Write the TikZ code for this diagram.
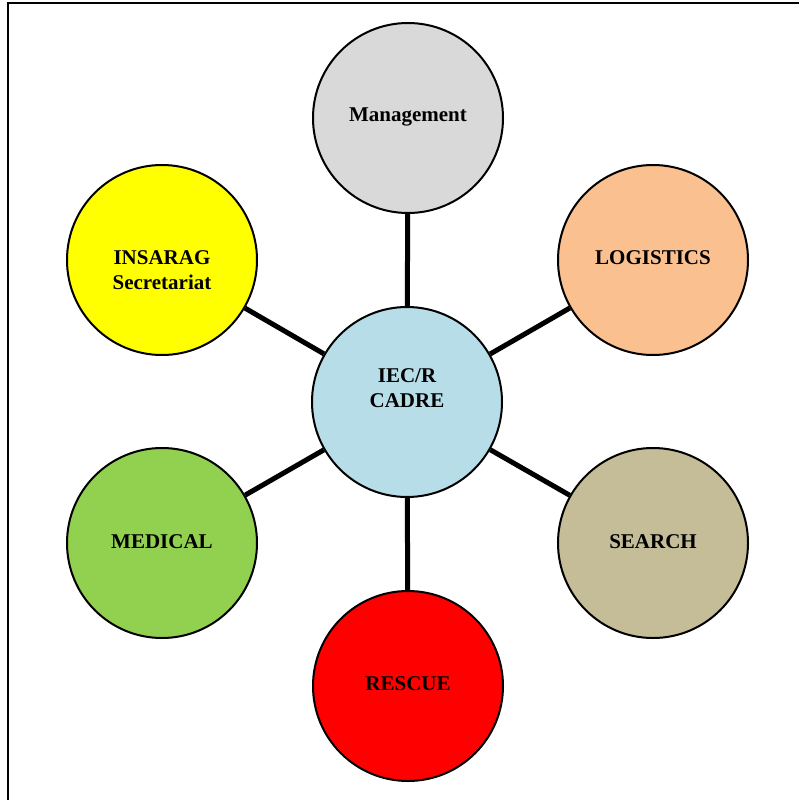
\documentclass[tikz,border=0pt]{standalone}
\usepackage{fontspec}
\setmainfont{Liberation Serif}
\begin{document}
\begin{tikzpicture}[x=1pt,y=-1pt,
  unit/.style={circle,draw=black,line width=2pt,minimum size=190pt,inner sep=0pt},
  lab/.style={inner sep=0pt,font=\fontsize{21}{25}\selectfont\bfseries,align=center},
  link/.style={line width=5pt,black}]
\useasboundingbox (0,0) rectangle (798,800);
\fill[white] (0,0) rectangle (798,800);
\draw[line width=2pt] (8,805) -- (8,3) -- (805,3);
\node[unit,fill={rgb,255:red,183;green,222;blue,232}] (core) at (407,402) {};
\node[unit,fill={rgb,255:red,217;green,217;blue,217}] (mgmt) at (408,118) {};
\node[unit,fill={rgb,255:red,250;green,192;blue,144}] (log) at (653,260) {};
\node[unit,fill={rgb,255:red,196;green,189;blue,151}] (search) at (653,543) {};
\node[unit,fill={rgb,255:red,255;green,0;blue,0}] (rescue) at (408,686) {};
\node[unit,fill={rgb,255:red,146;green,208;blue,80}] (med) at (162,543) {};
\node[unit,fill={rgb,255:red,255;green,255;blue,0}] (ins) at (162,260) {};
\foreach \n in {mgmt,log,search,rescue,med,ins}{
  \draw[link] (core) -- (\n);
}
\node[lab] (coreT) at ([yshift=14pt]core.center) {IEC/R\\CADRE};
\node[lab] (mgmtT) at ([yshift=1pt]mgmt.center) {Management};
\node[lab] (logT) at ([yshift=2pt]log.center) {LOGISTICS};
\node[lab] (searchT) at ([yshift=1.5pt]search.center) {SEARCH};
\node[lab] (rescueT) at ([yshift=2pt]rescue.center) {RESCUE};
\node[lab] (medT) at ([yshift=1.5pt]med.center) {MEDICAL};
\node[lab] (insT) at ([yshift=-10pt]ins.center) {INSARAG\\Secretariat};
\end{tikzpicture}
\end{document}
